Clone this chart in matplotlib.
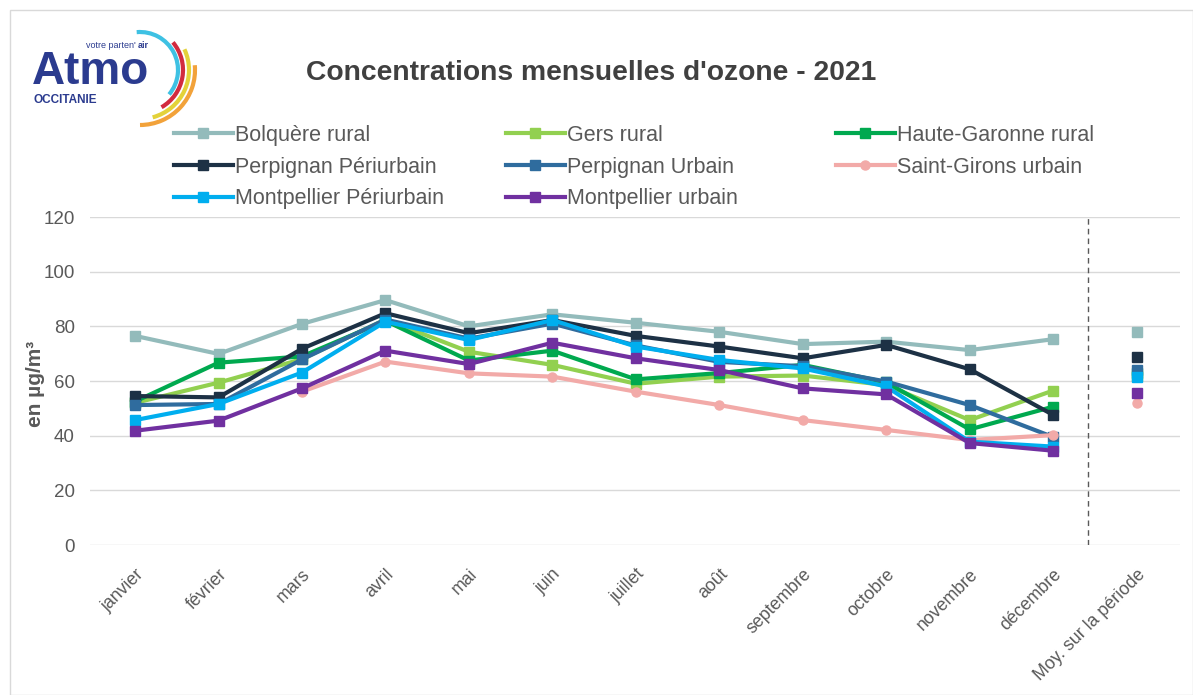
#!/usr/bin/env python3
import matplotlib
matplotlib.use("Agg")
import matplotlib.pyplot as plt
import numpy as np
from matplotlib.lines import Line2D
from matplotlib.patches import Arc, Rectangle

plt.rcParams["font.family"] = ["Liberation Sans", "DejaVu Sans"]

months = ["janvier", "février", "mars", "avril", "mai", "juin", "juillet",
          "août", "septembre", "octobre", "novembre", "décembre"]
avg_label = "Moy. sur la période"

# monthly values (µg/m3)
bolquere = [76.5, 69.9, 80.9, 89.6, 80.0, 84.4, 81.3, 78.0, 73.5, 74.4, 71.3, 75.3]
gers = [52.0, 59.4, 68.0, 82.5, 70.7, 65.9, 59.0, 61.6, 62.0, 58.5, 45.7, 56.5]
haute_garonne = [52.5, 66.7, 69.0, 82.0, 67.5, 71.1, 60.6, 62.9, 65.9, 59.5, 42.3, 50.6]
perpignan_peri = [54.5, 54.0, 71.8, 84.8, 77.5, 82.3, 76.5, 72.6, 68.3, 73.2, 64.3, 47.6]
perpignan_urb = [51.2, 51.6, 67.9, 82.5, 75.5, 81.0, 73.0, 67.0, 65.4, 59.8, 51.2, 39.5]
saint_girons = [np.nan, np.nan, 56.1, 67.1, 62.8, 61.6, 56.1, 51.2, 45.7, 42.1, 38.4, 40.2]
montpellier_peri = [45.7, 51.6, 63.1, 81.7, 75.0, 82.3, 72.6, 67.7, 64.6, 58.0, 37.8, 36.0]
montpellier_urb = [41.8, 45.5, 57.3, 71.1, 66.2, 74.0, 68.3, 64.0, 57.3, 55.1, 37.3, 34.5]

# averages over the period
averages = [78.0, 62.0, 62.8, 68.9, 64.0, 51.8, 61.6, 55.7]

names = ["Bolquère rural", "Gers rural", "Haute-Garonne rural",
         "Perpignan Périurbain", "Perpignan Urbain", "Saint-Girons urbain",
         "Montpellier Périurbain", "Montpellier urbain"]
series = [bolquere, gers, haute_garonne, perpignan_peri, perpignan_urb,
          saint_girons, montpellier_peri, montpellier_urb]
colors = ["#93BBBB", "#92D050", "#00A94F", "#1D3145", "#2F6C9E",
          "#F2AAA8", "#00AEEF", "#7030A0"]
markers = ["s", "s", "s", "s", "s", "o", "s", "s"]

W, H = 1193, 695
fig = plt.figure(figsize=(W / 100, H / 100), dpi=100)
fig.patches.append(Rectangle((10 / W, 0), 1 - 10 / W, 1 - 10 / H,
                             transform=fig.transFigure, fill=False,
                             edgecolor="#D9D9D9", lw=1))

ax = fig.add_axes([90 / W, 1 - 545 / H, 1090 / W, 328 / H])
x = list(range(len(months)))
for name, vals, avg, c, mk in zip(names, series, averages, colors, markers):
    ms = 7 if mk == "s" else 6.5
    ax.plot(x, vals, color=c, lw=3, marker=mk, ms=ms, label=name,
            solid_joinstyle="round")
    ax.plot([len(months)], [avg], color=c, marker=mk, ms=ms, ls="none")

ax.set_xlim(-0.54, 12.52)
ax.set_ylim(0, 120)
ax.set_yticks(range(0, 121, 20))
ax.set_xticks(range(len(months) + 1))
ax.set_xticklabels(months + [avg_label], rotation=45, ha="right",
                   rotation_mode="anchor", fontsize=12.8, color="#595959")
ax.tick_params(axis="y", labelsize=13.5, labelcolor="#595959", length=0, pad=11)
ax.tick_params(axis="x", length=0, pad=15)
ax.grid(axis="y", color="#D9D9D9", lw=1)
ax.set_axisbelow(True)
for s in ax.spines.values():
    s.set_visible(False)
ax.axvline(11.42, color="#595959", lw=1, ls=(0, (4, 3)))
ax.set_ylabel("en µg/m³", fontsize=15, fontweight="bold", color="#595959")
ax.yaxis.set_label_coords(-45 / 1090, 0.49)

fig.text(591 / W, 1 - 73 / H, "Concentrations mensuelles d'ozone - 2021",
         ha="center", va="center", fontsize=20.3, fontweight="bold",
         color="#404040")

# legend: three columns laid out like the original (row-wise order)
handles = {n: Line2D([], [], color=c, lw=3, marker=m,
                     ms=7 if m == "s" else 6.5)
           for n, c, m in zip(names, colors, markers)}
cols = [[names[0], names[3], names[6]],
        [names[1], names[4], names[7]],
        [names[2], names[5]]]
for cx, col in zip([163, 495, 825], cols):
    fig.legend([handles[n] for n in col], col, loc="upper left",
               bbox_to_anchor=(cx / W, 1 - 114 / H), frameon=False,
               fontsize=15.5, handlelength=2.75, handletextpad=0.1,
               labelspacing=0.5, borderpad=0, labelcolor="#595959")

# logo
lg = fig.add_axes([20 / W, 1 - 130 / H, 200 / W, 110 / H])
lg.set_xlim(0, 200)
lg.set_ylim(0, 110)
lg.axis("off")
lg.text(12, 46, "Atmo", fontsize=33, fontweight="bold", color="#2B3B8F",
        va="baseline", ha="left")
lg.text(14, 30, "OCCITANIE", fontsize=8.5, fontweight="bold", color="#2B3B8F",
        va="center")
lg.text(66, 84, "votre parten'", fontsize=6.5, color="#2B3B8F", va="center")
lg.text(118, 84, "air", fontsize=6.5, fontweight="bold", color="#2B3B8F",
        va="center")
cx0, cy0 = 120, 60
for r, t1, t2, c in [(38, -40, 95, "#3EC1E3"), (43, -60, 40, "#D22B3F"),
                     (49, -75, 25, "#E3D23A"), (55, -90, 5, "#F2A23A")]:
    lg.add_patch(Arc((cx0, cy0), 2 * r, 2 * r, theta1=t1, theta2=t2,
                     color=c, lw=3))

fig.savefig("out.png", dpi=100)
